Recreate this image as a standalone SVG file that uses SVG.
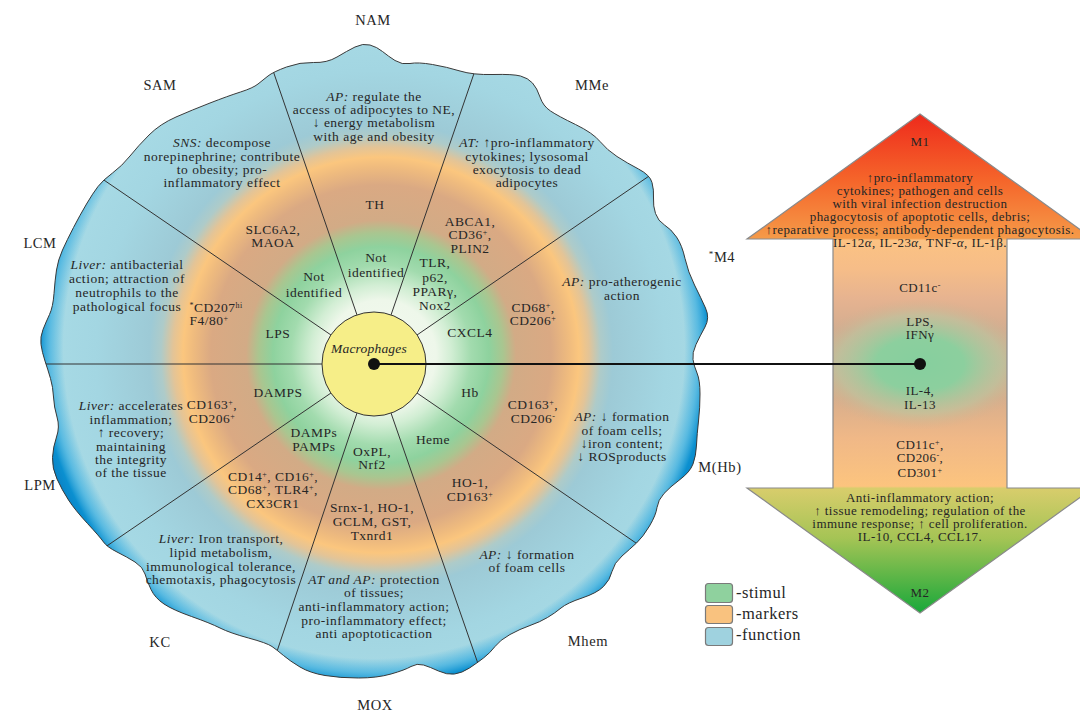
<svg xmlns="http://www.w3.org/2000/svg" width="1080" height="713" viewBox="0 0 1080 713">
<style>
.t{font-family:"Liberation Serif","DejaVu Serif",serif;font-size:13.5px;letter-spacing:0.5px;fill:#262626;text-anchor:middle}
.lab{font-size:14.5px;letter-spacing:0.6px}
.a{font-size:13px;letter-spacing:0.45px}
.lg{font-size:16.5px;letter-spacing:0.5px;text-anchor:start}
.i{font-style:italic}
.div line{stroke:#333;stroke-width:1}
.box{stroke:#7a7a7a;stroke-width:1.2}
</style>
<defs>
<radialGradient id="blobG" gradientUnits="userSpaceOnUse" cx="381" cy="355" r="340">
<stop offset="0" stop-color="#f4faf0"/>
<stop offset="0.162" stop-color="#eef7ea"/>
<stop offset="0.206" stop-color="#d2eed4"/>
<stop offset="0.265" stop-color="#a2dbae"/>
<stop offset="0.318" stop-color="#8ed29e"/>
<stop offset="0.359" stop-color="#a9c690"/>
<stop offset="0.397" stop-color="#d2ab86"/>
<stop offset="0.5" stop-color="#daa983"/>
<stop offset="0.553" stop-color="#efbb7e"/>
<stop offset="0.582" stop-color="#fbc67e"/>
<stop offset="0.612" stop-color="#e3c497"/>
<stop offset="0.647" stop-color="#aecbc9"/>
<stop offset="0.682" stop-color="#9dcad6"/>
<stop offset="0.838" stop-color="#a3d6e2"/>
<stop offset="1" stop-color="#a8dbe6"/>
</radialGradient>
<radialGradient id="edgeG" gradientUnits="userSpaceOnUse" cx="374" cy="348" r="345">
<stop offset="0" stop-color="#3aaee0" stop-opacity="0"/>
<stop offset="0.9" stop-color="#3aaee0" stop-opacity="0"/>
<stop offset="0.94" stop-color="#3aaee0" stop-opacity="0.7"/>
<stop offset="0.97" stop-color="#0b90d0"/>
<stop offset="1" stop-color="#0a80c4"/>
</radialGradient>
<linearGradient id="arrG" gradientUnits="userSpaceOnUse" x1="0" y1="114" x2="0" y2="613">
<stop offset="0" stop-color="#ee2a1c"/>
<stop offset="0.13" stop-color="#f5642a"/>
<stop offset="0.249" stop-color="#f59a48"/>
<stop offset="0.253" stop-color="#fbc283"/>
<stop offset="0.31" stop-color="#f6bd88"/>
<stop offset="0.37" stop-color="#e6b390"/>
<stop offset="0.43" stop-color="#d4ad90"/>
<stop offset="0.5" stop-color="#c8b595"/>
<stop offset="0.57" stop-color="#d8ae8c"/>
<stop offset="0.65" stop-color="#f0b887"/>
<stop offset="0.746" stop-color="#fcc47e"/>
<stop offset="0.75" stop-color="#d8cd6c"/>
<stop offset="0.85" stop-color="#a5c455"/>
<stop offset="1" stop-color="#18a83a"/>
</linearGradient>
<radialGradient id="arrC" gradientUnits="userSpaceOnUse" cx="920" cy="364" r="110" gradientTransform="translate(920 364) scale(1 0.6) translate(-920 -364)">
<stop offset="0" stop-color="#86cf9e"/>
<stop offset="0.4" stop-color="#8ccf9e"/>
<stop offset="0.75" stop-color="#b8c6a0" stop-opacity="0.6"/>
<stop offset="1" stop-color="#d0b090" stop-opacity="0"/>
</radialGradient>
<path id="blobP" d="M 355,47 Q 363,43 370,45 Q 377,47 382.5,51.5 Q 388,56 395,60.5 Q 402,65 410,63.5 Q 418,62 432.5,64.5 Q 447,67 460,71 Q 473,75 493,74.5 Q 513,74 520.5,76 Q 528,78 532.5,83 Q 537,88 540,97 Q 543,106 550.5,111 Q 558,116 575.5,124.5 Q 593,133 600,141.5 Q 607,150 617,156.5 Q 627,163 638.5,169 Q 650,175 652,182.5 Q 654,190 653.5,198 Q 653,206 655.5,213.5 Q 658,221 664.5,225 Q 671,229 676.5,237 Q 682,245 685,258.5 Q 688,272 694.5,285 Q 701,298 705.5,308 Q 710,318 705,327 Q 700,336 696,344.5 Q 692,353 693,359.5 Q 694,366 697,373 Q 700,380 700,394 Q 700,408 698.5,421 Q 697,434 696.5,445 Q 696,456 693,464 Q 690,472 680,479.5 Q 670,487 664,493.5 Q 658,500 657,507.5 Q 656,515 649.5,526 Q 643,537 636.5,543 Q 630,549 622,556 Q 614,563 612,571.5 Q 610,580 603.5,586.5 Q 597,593 582,598 Q 567,603 561,608 Q 555,613 547.5,617.5 Q 540,622 530,625.5 Q 520,629 510,634.5 Q 500,640 495,646.5 Q 490,653 483.5,658 Q 477,663 469.5,668 Q 462,673 454.5,674 Q 447,675 438.5,671 Q 430,667 423.5,665 Q 417,663 411,666.5 Q 405,670 391,674 Q 377,678 358.5,678 Q 340,678 325,675.5 Q 310,673 300,667 Q 290,661 283.5,655.5 Q 277,650 272,646.5 Q 267,643 248.5,638 Q 230,633 220,628 Q 210,623 191.5,616.5 Q 173,610 164,604 Q 155,598 151,589.5 Q 147,581 145,574 Q 143,567 135,562 Q 127,557 117,552 Q 107,547 103.5,542 Q 100,537 87.5,523.5 Q 75,510 68.5,500 Q 62,490 57,479 Q 52,468 52.5,457.5 Q 53,447 56.5,437 Q 60,427 57,417 Q 54,407 53.5,397 Q 53,387 50.5,378.5 Q 48,370 45,361 Q 42,352 41,344.5 Q 40,337 43,329.5 Q 46,322 49.5,314.5 Q 53,307 54,293.5 Q 55,280 56.5,270 Q 58,260 62.5,250 Q 67,240 73.5,227.5 Q 80,215 86.5,204 Q 93,193 98,186.5 Q 103,180 112.5,173 Q 122,166 130,156 Q 138,146 149,135 Q 160,124 176,117 Q 192,110 210,103 Q 228,96 240.5,92 Q 253,88 258,84 Q 263,80 268,76 Q 273,72 286.5,67 Q 300,62 313.5,62.5 Q 327,63 337,57 Q 347,51 355,47 Z"/>
<clipPath id="blobClip"><use href="#blobP"/></clipPath>
<path id="arrP" d="M 920,114 L 1093,239 L 1007,239 L 1007,488 L 1093,488 L 920,613 L 747,488 L 833,488 L 833,239 L 747,239 Z"/>
</defs>

<g id="macrophage-wheel">
<use href="#blobP" fill="url(#blobG)"/>
<use href="#blobP" fill="url(#edgeG)" stroke="#3a3a3a" stroke-width="1"/>
<g class="div" clip-path="url(#blobClip)">
<line x1="322" y1="364" x2="10" y2="364"/>
<line x1="331" y1="335" x2="76" y2="161"/>
<line x1="357" y1="315" x2="257" y2="24"/>
<line x1="391" y1="315" x2="491" y2="24"/>
<line x1="417" y1="335" x2="671" y2="161"/>
<line x1="417" y1="393" x2="671" y2="567"/>
<line x1="391" y1="413" x2="492" y2="704"/>
<line x1="357" y1="413" x2="259" y2="705"/>
<line x1="331" y1="393" x2="76" y2="567"/>
</g>
</g>

<g id="arrow-M1-M2">
<use href="#arrP" fill="url(#arrG)"/>
<use href="#arrP" fill="url(#arrC)" stroke="#8a8a8a" stroke-width="1.2"/>
</g>

<g id="node-macrophages">
<circle cx="374" cy="364" r="52" fill="#f6ee88" stroke="#333" stroke-width="1"/>
<text class="t i" x="369" y="353" style="letter-spacing:0.2px">Macrophages</text>
</g>

<g id="connectors">
<line x1="374" y1="364" x2="920" y2="364" stroke="#111" stroke-width="2.2"/>
<circle cx="374" cy="364" r="6" fill="#111"/>
<circle cx="920" cy="364" r="6" fill="#111"/>
</g>

<g id="labels-outer">
<text class="t lab" x="373" y="25">NAM</text>
<text class="t lab" x="160" y="90">SAM</text>
<text class="t lab" x="592" y="90">MMe</text>
<text class="t lab" x="40" y="248">LCM</text>
<text class="t lab" x="722" y="262"><tspan font-size="9" baseline-shift="super">*</tspan>M4</text>
<text class="t lab" x="40" y="490">LPM</text>
<text class="t lab" x="720" y="472">M(Hb)</text>
<text class="t lab" x="160" y="647">KC</text>
<text class="t lab" x="588" y="646">Mhem</text>
<text class="t lab" x="375" y="710">MOX</text>
</g>

<g id="sector-NAM">
<text class="t"><tspan x="374" y="101"><tspan class="i">AP:</tspan> regulate the</tspan><tspan x="374" y="114">access of adipocytes to NE,</tspan><tspan x="374" y="127">↓ energy metabolism</tspan><tspan x="374" y="141">with age and obesity</tspan></text>
<text class="t" x="375" y="209">TH</text>
<text class="t"><tspan x="376" y="262">Not</tspan><tspan x="376" y="277">identified</tspan></text>
</g>

<g id="sector-SAM">
<text class="t"><tspan x="222" y="147"><tspan class="i">SNS:</tspan> decompose</tspan><tspan x="222" y="161">norepinephrine; contribute</tspan><tspan x="222" y="174">to obesity; pro-</tspan><tspan x="222" y="187">inflammatory effect</tspan></text>
<text class="t"><tspan x="273" y="234">SLC6A2,</tspan><tspan x="273" y="247">MAOA</tspan></text>
<text class="t"><tspan x="314" y="281">Not</tspan><tspan x="314" y="297">identified</tspan></text>
</g>

<g id="sector-MMe">
<text class="t"><tspan x="527" y="147"><tspan class="i">AT:</tspan> ↑pro-inflammatory</tspan><tspan x="527" y="161">cytokines; lysosomal</tspan><tspan x="527" y="174">exocytosis to dead</tspan><tspan x="527" y="187">adipocytes</tspan></text>
<text class="t"><tspan x="470" y="226">ABCA1,</tspan><tspan x="470" y="239">CD36<tspan font-size="8" baseline-shift="super">+</tspan>,</tspan><tspan x="470" y="253">PLIN2</tspan></text>
<text class="t"><tspan x="435" y="267">TLR,</tspan><tspan x="435" y="282">p62,</tspan><tspan x="435" y="296">PPARγ,</tspan><tspan x="435" y="310">Nox2</tspan></text>
</g>

<g id="sector-M4">
<text class="t"><tspan x="622" y="286"><tspan class="i">AP:</tspan> pro-atherogenic</tspan><tspan x="622" y="300">action</tspan></text>
<text class="t"><tspan x="533" y="312">CD68<tspan font-size="8" baseline-shift="super">+</tspan>,</tspan><tspan x="533" y="325">CD206<tspan font-size="8" baseline-shift="super">+</tspan></tspan></text>
<text class="t" x="470" y="337">CXCL4</text>
</g>

<g id="sector-MHb">
<text class="t" x="470" y="397">Hb</text>
<text class="t"><tspan x="533" y="409">CD163<tspan font-size="8" baseline-shift="super">+</tspan>,</tspan><tspan x="533" y="423">CD206<tspan font-size="8" baseline-shift="super">-</tspan></tspan></text>
<text class="t"><tspan x="622" y="421"><tspan class="i">AP:</tspan> ↓ formation</tspan><tspan x="622" y="435">of foam cells;</tspan><tspan x="622" y="448">↓iron content;</tspan><tspan x="622" y="461">↓ ROSproducts</tspan></text>
</g>

<g id="sector-Mhem">
<text class="t" x="433" y="444">Heme</text>
<text class="t"><tspan x="470" y="487">HO-1,</tspan><tspan x="470" y="501">CD163<tspan font-size="8" baseline-shift="super">+</tspan></tspan></text>
<text class="t"><tspan x="527" y="559"><tspan class="i">AP:</tspan> ↓ formation</tspan><tspan x="527" y="572">of foam cells</tspan></text>
</g>

<g id="sector-MOX">
<text class="t"><tspan x="372" y="456">OxPL,</tspan><tspan x="372" y="469">Nrf2</tspan></text>
<text class="t"><tspan x="372" y="512">Srnx-1, HO-1,</tspan><tspan x="372" y="526">GCLM, GST,</tspan><tspan x="372" y="540">Txnrd1</tspan></text>
<text class="t"><tspan x="374" y="584"><tspan class="i">AT and AP:</tspan> protection</tspan><tspan x="374" y="597">of tissues;</tspan><tspan x="374" y="611">anti-inflammatory action;</tspan><tspan x="374" y="625">pro-inflammatory effect;</tspan><tspan x="374" y="638">anti apoptoticaction</tspan></text>
</g>

<g id="sector-KC">
<text class="t"><tspan x="314" y="437">DAMPs</tspan><tspan x="314" y="451">PAMPs</tspan></text>
<text class="t"><tspan x="273" y="481">CD14<tspan font-size="8" baseline-shift="super">+</tspan>, CD16<tspan font-size="8" baseline-shift="super">+</tspan>,</tspan><tspan x="273" y="494">CD68<tspan font-size="8" baseline-shift="super">+</tspan>, TLR4<tspan font-size="8" baseline-shift="super">+</tspan>,</tspan><tspan x="273" y="508">CX3CR1</tspan></text>
<text class="t"><tspan x="221" y="543"><tspan class="i">Liver:</tspan> Iron transport,</tspan><tspan x="221" y="557">lipid metabolism,</tspan><tspan x="221" y="571">immunological tolerance,</tspan><tspan x="221" y="584">chemotaxis, phagocytosis</tspan></text>
</g>

<g id="sector-LPM">
<text class="t" x="278" y="397">DAMPS</text>
<text class="t"><tspan x="212" y="409">CD163<tspan font-size="8" baseline-shift="super">+</tspan>,</tspan><tspan x="212" y="423">CD206<tspan font-size="8" baseline-shift="super">+</tspan></tspan></text>
<text class="t"><tspan x="131" y="410"><tspan class="i">Liver:</tspan> accelerates</tspan><tspan x="131" y="424">inflammation;</tspan><tspan x="131" y="437">↑ recovery;</tspan><tspan x="131" y="451">maintaining</tspan><tspan x="131" y="464">the integrity</tspan><tspan x="131" y="477">of the tissue</tspan></text>
</g>

<g id="sector-LCM">
<text class="t" x="278" y="338">LPS</text>
<text class="t"><tspan x="216" y="312"><tspan font-size="8" baseline-shift="super">*</tspan>CD207<tspan font-size="8" baseline-shift="super">hi</tspan></tspan><tspan x="209" y="325">F4/80<tspan font-size="8" baseline-shift="super">+</tspan></tspan></text>
<text class="t"><tspan x="127" y="269"><tspan class="i">Liver:</tspan> antibacterial</tspan><tspan x="127" y="283">action; attraction of</tspan><tspan x="127" y="297">neutrophils to the</tspan><tspan x="127" y="311">pathological focus</tspan></text>
</g>

<g id="arrow-texts">
<text class="t a" x="920" y="146">M1</text>
<text class="t a"><tspan x="920" y="182">↑pro-inflammatory</tspan><tspan x="920" y="195">cytokines; pathogen and cells</tspan><tspan x="920" y="208">with viral infection destruction</tspan><tspan x="920" y="221">phagocytosis of apoptotic cells, debris;</tspan><tspan x="920" y="234">↑reparative process; antibody-dependent phagocytosis.</tspan><tspan x="920" y="247">IL-12<tspan class="i">α</tspan>, IL-23<tspan class="i">α</tspan>, TNF-<tspan class="i">α</tspan>, IL-1β.</tspan></text>
<text class="t a" x="920" y="292">CD11c<tspan font-size="8" baseline-shift="super">-</tspan></text>
<text class="t a"><tspan x="920" y="326">LPS,</tspan><tspan x="920" y="339">IFNγ</tspan></text>
<text class="t a"><tspan x="920" y="395">IL-4,</tspan><tspan x="920" y="409">IL-13</tspan></text>
<text class="t a"><tspan x="920" y="449">CD11c<tspan font-size="8" baseline-shift="super">+</tspan>,</tspan><tspan x="920" y="462">CD206<tspan font-size="8" baseline-shift="super">-</tspan>,</tspan><tspan x="920" y="477">CD301<tspan font-size="8" baseline-shift="super">+</tspan></tspan></text>
<text class="t a"><tspan x="920" y="502">Anti-inflammatory action;</tspan><tspan x="920" y="515">↑ tissue remodeling; regulation of the</tspan><tspan x="920" y="528">immune response; ↑ cell proliferation.</tspan><tspan x="920" y="541">IL-10, CCL4, CCL17.</tspan></text>
<text class="t a" x="920" y="597">M2</text>
</g>

<g id="legend">
<rect class="box" x="705.5" y="583.5" width="27" height="19" rx="3" fill="#8fd19e"/>
<rect class="box" x="705.5" y="605.5" width="27" height="18" rx="3" fill="#f9c27f"/>
<rect class="box" x="705.5" y="627.5" width="27" height="18" rx="3" fill="#9fd2df"/>
<text class="t lg" x="736" y="598">-stimul</text>
<text class="t lg" x="736" y="619">-markers</text>
<text class="t lg" x="736" y="640">-function</text>
</g>
</svg>
